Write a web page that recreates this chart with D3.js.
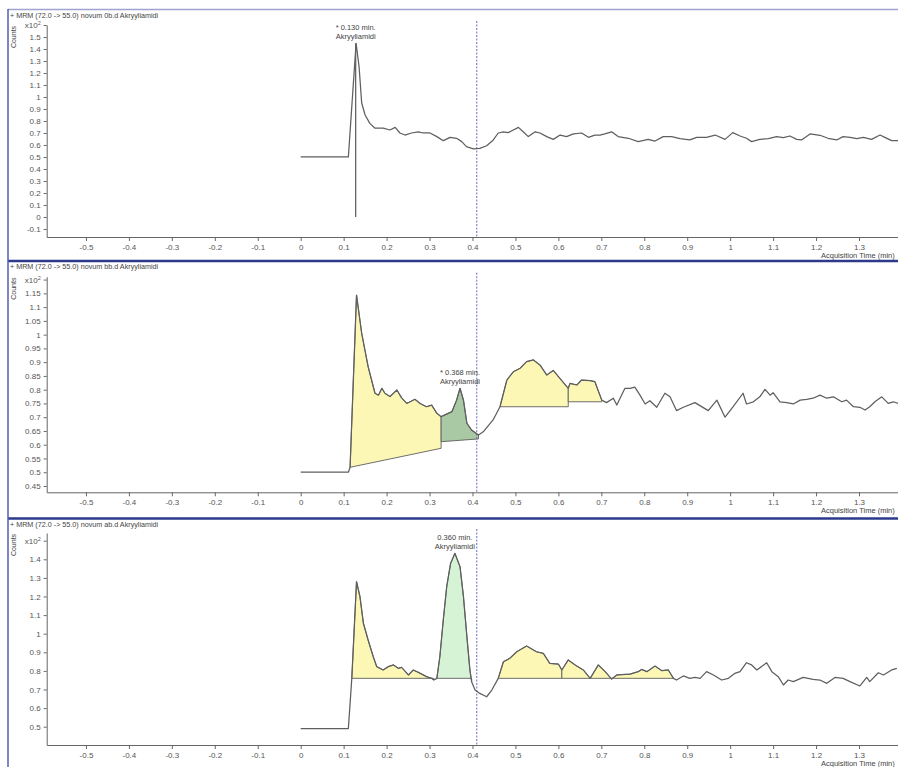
<!DOCTYPE html>
<html>
<head>
<meta charset="utf-8">
<script src="https://cdn.jsdelivr.net/npm/d3@7/dist/d3.min.js"></script>
<style>
	body { margin: 0; background: #fff; }
	svg { display: block; font-family: 'Liberation Sans', Arial, sans-serif; }
</style>
</head>
<body>
<svg id="chart" width="898" height="767"></svg>
<script>
/*
 *	DATA  (time in min, counts in x10^2)
 */
const xTickValues = [-0.5, -0.4, -0.3, -0.2, -0.1, 0, 0.1, 0.2, 0.3, 0.4, 0.5, 0.6, 0.7, 0.8, 0.9, 1, 1.1, 1.2, 1.3]

const titles = [
	'+ MRM (72.0 -> 55.0) novum 0b.d Akryyliamidi',
	'+ MRM (72.0 -> 55.0) novum bb.d Akryyliamidi',
	'+ MRM (72.0 -> 55.0) novum ab.d Akryyliamidi'
]

const yTicks0b = [-0.1, 0, 0.1, 0.2, 0.3, 0.4, 0.5, 0.6, 0.7, 0.8, 0.9, 1, 1.1, 1.2, 1.3, 1.4, 1.5, 1.6]
const yTicksBb = [0.45, 0.5, 0.55, 0.6, 0.65, 0.7, 0.75, 0.8, 0.85, 0.9, 0.95, 1, 1.05, 1.1, 1.15, 1.2]
const yTicksAb = [0.5, 0.6, 0.7, 0.8, 0.9, 1, 1.1, 1.2, 1.3, 1.4, 1.5]

const cursorTime = 0.41

const trace0b = [
	[0, 0.5], [0.111, 0.5], [0.129, 1.447], [0.136, 1.25], [0.142, 0.95], [0.150, 0.85], [0.161, 0.78],
	[0.173, 0.74], [0.192, 0.74], [0.208, 0.725], [0.220, 0.747], [0.231, 0.70], [0.243, 0.683], [0.258, 0.70],
	[0.274, 0.71], [0.285, 0.70], [0.301, 0.70], [0.317, 0.67], [0.332, 0.636], [0.348, 0.664], [0.363, 0.656],
	[0.375, 0.628], [0.386, 0.586], [0.402, 0.567], [0.417, 0.572], [0.433, 0.594], [0.448, 0.64], [0.460, 0.70],
	[0.472, 0.71], [0.483, 0.703], [0.495, 0.725], [0.507, 0.747], [0.518, 0.71], [0.530, 0.67], [0.546, 0.71],
	[0.557, 0.70], [0.573, 0.67], [0.588, 0.647], [0.604, 0.683], [0.619, 0.67], [0.635, 0.692], [0.654, 0.70],
	[0.670, 0.664], [0.685, 0.683], [0.697, 0.683], [0.708, 0.692], [0.724, 0.71], [0.739, 0.67], [0.763, 0.656],
	[0.786, 0.628], [0.809, 0.647], [0.825, 0.633], [0.844, 0.67], [0.864, 0.67], [0.883, 0.653], [0.906, 0.642],
	[0.922, 0.664], [0.945, 0.664], [0.965, 0.683], [0.988, 0.647], [1.006, 0.703], [1.023, 0.675], [1.038, 0.656],
	[1.050, 0.628], [1.069, 0.647], [1.089, 0.653], [1.108, 0.67], [1.124, 0.661], [1.139, 0.675], [1.155, 0.647],
	[1.166, 0.642], [1.186, 0.692], [1.209, 0.681], [1.228, 0.656], [1.248, 0.642], [1.263, 0.67], [1.279, 0.664],
	[1.295, 0.653], [1.310, 0.664], [1.329, 0.647], [1.349, 0.683], [1.360, 0.664], [1.376, 0.636], [1.391, 0.636]
]
const marker0b = [[0.128, 0], [0.128, 1.447]]

const traceBb = [
	[0, 0.5], [0.111, 0.5], [0.115, 0.518], [0.130, 1.144], [0.142, 1.005], [0.157, 0.884], [0.173, 0.787],
	[0.181, 0.78], [0.189, 0.805], [0.196, 0.787], [0.208, 0.775], [0.224, 0.799], [0.235, 0.77], [0.247, 0.75],
	[0.266, 0.765], [0.278, 0.75], [0.293, 0.738], [0.305, 0.744], [0.317, 0.714], [0.327, 0.702], [0.352, 0.72],
	[0.363, 0.762], [0.371, 0.805], [0.379, 0.762], [0.387, 0.678], [0.398, 0.653], [0.414, 0.635], [0.425, 0.647],
	[0.448, 0.69], [0.464, 0.738], [0.480, 0.835], [0.495, 0.865], [0.511, 0.878], [0.526, 0.902], [0.542, 0.908],
	[0.557, 0.89], [0.573, 0.853], [0.588, 0.87], [0.604, 0.84], [0.623, 0.805], [0.627, 0.823], [0.643, 0.817],
	[0.654, 0.835], [0.674, 0.833], [0.685, 0.829], [0.701, 0.762], [0.712, 0.753], [0.728, 0.769], [0.736, 0.744],
	[0.755, 0.805], [0.767, 0.805], [0.778, 0.809], [0.790, 0.78], [0.802, 0.748], [0.813, 0.76], [0.829, 0.736],
	[0.848, 0.787], [0.860, 0.774], [0.875, 0.724], [0.891, 0.736], [0.918, 0.753], [0.949, 0.724], [0.969, 0.762],
	[0.988, 0.70], [1.007, 0.738], [1.030, 0.787], [1.038, 0.748], [1.054, 0.756], [1.069, 0.774], [1.081, 0.801],
	[1.093, 0.78], [1.100, 0.789], [1.116, 0.756], [1.132, 0.753], [1.147, 0.748], [1.163, 0.762], [1.178, 0.765],
	[1.193, 0.769], [1.209, 0.78], [1.225, 0.769], [1.240, 0.774], [1.260, 0.756], [1.271, 0.762], [1.287, 0.738],
	[1.302, 0.736], [1.314, 0.726], [1.325, 0.738], [1.337, 0.756], [1.353, 0.774], [1.368, 0.75], [1.380, 0.756],
	[1.391, 0.75]
]

const traceAb = [
	[0, 0.49], [0.111, 0.49], [0.119, 0.76], [0.130, 1.28], [0.138, 1.199], [0.146, 1.056], [0.157, 0.966],
	[0.169, 0.876], [0.177, 0.823], [0.192, 0.805], [0.204, 0.823], [0.216, 0.832], [0.227, 0.814], [0.235, 0.819],
	[0.251, 0.778], [0.262, 0.805], [0.274, 0.792], [0.293, 0.769], [0.305, 0.76], [0.310, 0.751], [0.317, 0.76],
	[0.324, 0.876], [0.332, 1.074], [0.340, 1.253], [0.349, 1.378], [0.359, 1.432], [0.371, 1.36], [0.379, 1.199],
	[0.387, 0.984], [0.394, 0.805], [0.398, 0.742], [0.406, 0.697], [0.417, 0.679], [0.433, 0.661], [0.445, 0.697],
	[0.460, 0.76], [0.472, 0.849], [0.487, 0.868], [0.503, 0.903], [0.526, 0.934], [0.549, 0.903], [0.565, 0.894],
	[0.580, 0.84], [0.600, 0.837], [0.608, 0.805], [0.623, 0.859], [0.639, 0.832], [0.658, 0.805], [0.674, 0.76],
	[0.693, 0.832], [0.709, 0.796], [0.724, 0.756], [0.736, 0.778], [0.767, 0.783], [0.786, 0.796], [0.794, 0.808],
	[0.806, 0.796], [0.825, 0.826], [0.841, 0.801], [0.856, 0.805], [0.868, 0.76], [0.875, 0.751], [0.891, 0.773],
	[0.906, 0.76], [0.918, 0.765], [0.930, 0.76], [0.945, 0.796], [0.961, 0.778], [0.980, 0.751], [0.996, 0.76],
	[1.011, 0.787], [1.023, 0.796], [1.038, 0.844], [1.050, 0.832], [1.062, 0.805], [1.073, 0.823], [1.085, 0.844],
	[1.097, 0.796], [1.112, 0.769], [1.124, 0.724], [1.135, 0.751], [1.147, 0.742], [1.170, 0.765], [1.193, 0.755],
	[1.209, 0.751], [1.225, 0.733], [1.244, 0.765], [1.263, 0.76], [1.279, 0.742], [1.302, 0.719], [1.318, 0.765],
	[1.325, 0.742], [1.345, 0.79], [1.357, 0.778], [1.376, 0.805], [1.388, 0.814]
]

// integrated regions: [from, to, baseline at from, baseline at to, is target compound]
const regions0b = []
const regionsBb = [
	[0.115, 0.327, 0.518, 0.587, false],
	[0.327, 0.414, 0.611, 0.621, true],
	[0.464, 0.623, 0.738, 0.738, false],
	[0.623, 0.701, 0.756, 0.756, false]
]
const regionsAb = [
	[0.119, 0.310, 0.76, 0.76, false],
	[0.317, 0.398, 0.76, 0.76, true],
	[0.460, 0.608, 0.76, 0.76, false],
	[0.608, 0.674, 0.76, 0.76, false],
	[0.674, 0.724, 0.76, 0.76, false],
	[0.724, 0.868, 0.76, 0.76, false]
]

// peak labels: [time, counts, line 1, line 2]
const peakLabels = [
	[0.128, 1.447, '* 0.130 min.', 'Akryyliamidi'],
	[0.371, 0.805, '* 0.368 min.', 'Akryyliamidi'],
	[0.359, 1.432, '0.360 min.', 'Akryyliamidi']
]

/*
 *	LAYOUT
 */
const W = 898
const xLeft = 46.7
const x = d3.scaleLinear().domain([-0.5914, 1.442]).range([xLeft, 920])

const panels = [
	{ trace: trace0b, regions: regions0b, marker: marker0b, ticks: yTicks0b, top: 9.5, axisTop: 25, axisBottom: 237, domain: [-0.1667, 1.6], targetFill: '#a9c8a4' },
	{ trace: traceBb, regions: regionsBb, marker: null, ticks: yTicksBb, top: 261, axisTop: 276.7, axisBottom: 492.3, domain: [0.4271, 1.2105], targetFill: '#a9c8a4' },
	{ trace: traceAb, regions: regionsAb, marker: null, ticks: yTicksAb, top: 518.5, axisTop: 533, axisBottom: 745, domain: [0.4016, 1.5414], targetFill: '#d6f3d6' }
]

const svg = d3.select('#chart')
const fmt = d => String(+d.toFixed(2))
const ink = '#5f5f5f'

function valueAt(trace, t) {
	for (let i = 1; i < trace.length; i++) {
		const [t0, v0] = trace[i - 1]
		const [t1, v1] = trace[i]
		if (t >= t0 && t <= t1) return t1 === t0 ? v1 : v0 + (v1 - v0) * (t - t0) / (t1 - t0)
	}
	return trace[trace.length - 1][1]
}

function regionPoints(trace, r) {
	const [from, to, b0, b1] = r
	const inner = trace.filter(p => p[0] > from && p[0] < to)
	return [[from, b0], [from, valueAt(trace, from)], ...inner, [to, valueAt(trace, to)], [to, b1]]
}

panels.forEach((p, i) => {
	const y = d3.scaleLinear().domain(p.domain).range([p.axisBottom, p.axisTop])
	const g = svg.append('g')
	const line = d3.line().x(d => x(d[0])).y(d => y(d[1]))

	// title
	g.append('text')
		.attr('x', 10)
		.attr('y', p.top + 8)
		.attr('font-size', 7.2)
		.attr('fill', '#444')
		.text(titles[i])

	// counts label
	g.append('text')
		.attr('transform', `translate(16,${p.axisTop + 12}) rotate(-90)`)
		.attr('text-anchor', 'middle')
		.attr('font-size', 7)
		.attr('fill', '#444')
		.text('Counts')

	// y axis
	const yAxis = g.append('g')
		.attr('transform', `translate(${xLeft},0)`)
		.call(d3.axisLeft(y).tickValues(p.ticks).tickSize(3).tickSizeOuter(0).tickFormat(fmt))
	yAxis.selectAll('text').attr('font-size', 8).attr('fill', '#555').attr('font-family', 'Liberation Sans, Arial')
	const topLabel = yAxis.selectAll('.tick text').filter(d => d === p.ticks[p.ticks.length - 1])
	topLabel.text('x10').append('tspan').attr('dy', -3).attr('font-size', 5.5).text('2')

	// x axis
	const xAxis = g.append('g')
		.attr('transform', `translate(0,${p.axisBottom})`)
		.call(d3.axisBottom(x).tickValues(xTickValues).tickSize(4).tickSizeOuter(0).tickFormat(fmt))
	xAxis.selectAll('text').attr('font-size', 8).attr('fill', '#555').attr('font-family', 'Liberation Sans, Arial')

	g.selectAll('.domain, .tick line').attr('stroke', '#666')

	g.append('text')
		.attr('x', 821)
		.attr('y', p.axisBottom + 21)
		.attr('font-size', 7.5)
		.attr('fill', '#444')
		.text('Acquisition Time (min)')

	// integrated regions
	p.regions.forEach(r => {
		g.append('path')
			.attr('d', line(regionPoints(p.trace, r)) + 'Z')
			.attr('fill', r[4] ? p.targetFill : '#fcf7b4')
			.attr('stroke', ink)
			.attr('stroke-width', 0.9)
	})

	// cursor
	g.append('line')
		.attr('x1', x(cursorTime)).attr('x2', x(cursorTime))
		.attr('y1', p.axisTop - 4).attr('y2', p.axisBottom)
		.attr('stroke', '#6b6bbf')
		.attr('stroke-width', 1)
		.attr('stroke-dasharray', '2,1.5')

	// trace
	g.append('path')
		.attr('d', line(p.trace))
		.attr('fill', 'none')
		.attr('stroke', ink)
		.attr('stroke-width', 1.25)
		.attr('stroke-linejoin', 'round')

	if (p.marker) {
		g.append('path')
			.attr('d', line(p.marker))
			.attr('stroke', ink)
			.attr('stroke-width', 1.25)
	}

	// peak label
	const [pt, pv, l1, l2] = peakLabels[i]
	const lbl = g.append('text')
		.attr('text-anchor', 'middle')
		.attr('font-size', 7.5)
		.attr('fill', '#444')
	lbl.append('tspan').attr('x', x(pt)).attr('y', y(pv) - 13.5).text(l1)
	lbl.append('tspan').attr('x', x(pt)).attr('y', y(pv) - 4).text(l2)
})

// frame
svg.append('line').attr('x1', 8).attr('x2', W).attr('y1', 9.5).attr('y2', 9.5)
	.attr('stroke', '#9ea3cf').attr('stroke-width', 1.5)
panels.slice(1).forEach(p => {
	svg.append('line').attr('x1', 8).attr('x2', W).attr('y1', p.top).attr('y2', p.top)
		.attr('stroke', '#2d3a8c').attr('stroke-width', 2.5)
})
svg.append('line').attr('x1', 8).attr('x2', 8).attr('y1', 9).attr('y2', 767)
	.attr('stroke', '#4f5fb0').attr('stroke-width', 1.5)
</script>
</body>
</html>
